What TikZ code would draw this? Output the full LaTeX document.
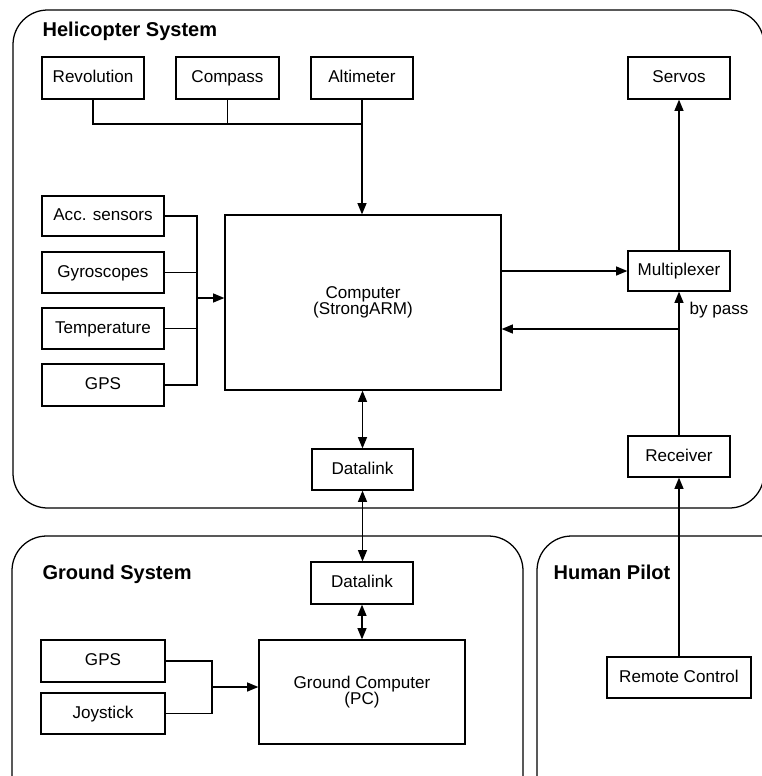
\documentclass[tikz,border=0pt]{standalone}
\usepackage{fontspec}
\setmainfont{Liberation Sans}
\usetikzlibrary{arrows.meta}
\begin{document}
\begin{tikzpicture}[x=0.75pt,y=-0.75pt,
  line width=0.95pt,
  font=\fontsize{12.8}{12}\selectfont,
  blk/.style={draw, rectangle, inner sep=0pt, align=center},
  one/.style={text height=9.5pt, text depth=2.5pt},
  sz/.style 2 args={minimum width=#1*0.75pt, minimum height=#2*0.75pt},
  group/.style={draw, rounded corners=26pt},
  title/.style={font=\fontsize{15}{18}\selectfont\bfseries, anchor=base west, inner sep=0pt},
  arr/.style={-{Triangle[length=8.5pt,width=6.8pt]}},
  darr/.style={{Triangle[length=8.5pt,width=6.8pt]}-{Triangle[length=8.5pt,width=6.8pt]}}]
\useasboundingbox (0,0) rectangle (762,776);
\clip (0,0) rectangle (762,776);
% containers
\draw[group] (13,10) rectangle (764,508);
\draw[group] (12,536) rectangle (523,820);
\draw[group] (537,536) rectangle (800,820);
\node[title] (th) at (42,36) {Helicopter System};
\node[title] (tg) at (42,579) {Ground System};
\node[title] (tp) at (553,579) {Human Pilot};
% helicopter boxes
\node[blk, one, sz={102}{42}] (rev) at (93,78) {Revolution};
\node[blk, one, sz={103}{42}] (comp) at (227.5,78) {Compass};
\node[blk, one, sz={102}{42}] (alt) at (362,78) {Altimeter};
\node[blk, one, sz={102}{42}] (servo) at (679,78) {Servos};
\node[blk, one, sz={122}{40}] (acc) at (103,216) {Acc. sensors};
\node[blk, one, sz={122}{41}] (gyro) at (103,272.5) {Gyroscopes};
\node[blk, one, sz={122}{41}] (temp) at (103,328.5) {Temperature};
\node[blk, one, sz={122}{42}] (gps) at (103,385) {GPS};
\node[blk, sz={276}{175}] (cpu) at (363,302.5) {Computer\\(StrongARM)};
\node[blk, one, sz={101}{41}] (dl) at (362.5,469.5) {Datalink};
\node[blk, one, sz={102}{40}] (mux) at (679,271) {Multiplexer};
\node[blk, one, sz={102}{41}] (rec) at (679,456.5) {Receiver};
% ground boxes
\node[blk, one, sz={102}{42}] (gdl) at (362,583) {Datalink};
\node[blk, sz={206}{104}] (gpc) at (362,692) {Ground Computer\\(PC)};
\node[blk, one, sz={124}{42}] (ggps) at (103,661) {GPS};
\node[blk, one, sz={124}{41}] (joy) at (103,713.5) {Joystick};
\node[blk, one, sz={144}{41}] (rc) at (679,677.5) {Remote Control};
% top sensor bus
\coordinate (bt) at (362,124);
\draw (rev.south) |- (bt);
\draw (comp.south) -- (comp.south |- bt);
\draw[arr] (alt.south) -- (cpu.north -| alt.south);
% left sensor bus
\coordinate (bl) at (197,298);
\draw (acc.east) -| (bl);
\draw (gyro.east) -| (bl);
\draw (temp.east) -| (bl);
\draw (gps.east) -| (bl);
\draw[arr] (bl) -- (bl -| cpu.west);
% computer links
\draw[darr] (cpu.south -| dl.north) -- (dl.north);
\draw[arr] (cpu.east |- mux.west) -- (mux.west);
\draw[arr] (mux.north) -- (servo.south);
\draw[arr] (rec.north) -- (mux.south) node[pos=0.875, anchor=west, inner sep=0pt, xshift=7.5pt] (bp) {by pass};
\coordinate (br) at (679,329);
\draw[arr] (br) -- (br -| cpu.east);
% datalinks
\draw[darr] (dl.south) -- (gdl.north -| dl.south);
\draw[darr] (gdl.south) -- (gpc.north -| gdl.south);
% ground bus
\coordinate (bg) at (212,687);
\draw (ggps.east) -| (bg);
\draw (joy.east) -| (bg);
\draw[arr] (bg) -- (bg -| gpc.west);
% remote control
\draw[arr] (rc.north) -- (rec.south);
\end{tikzpicture}
\end{document}
